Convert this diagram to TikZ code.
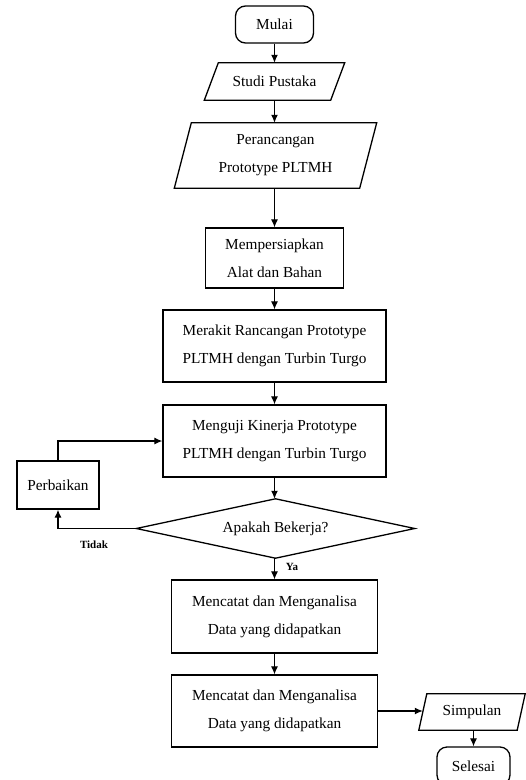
\documentclass[tikz,border=0pt]{standalone}
\usepackage{fontspec}
\setmainfont{Liberation Serif}
\usetikzlibrary{shapes.geometric,arrows.meta,calc}
\begin{document}
\begin{tikzpicture}[x=1pt,y=-1pt,
  every node/.style={font=\fontsize{15.3}{28}\selectfont, align=center, inner sep=0pt},
  procbox/.style={draw, line width=1.3pt, rectangle},
  termbox/.style={draw, line width=1.3pt, rectangle, rounded corners=10pt},
  iobox/.style={rectangle},
  decbox/.style={rectangle},
  lbl/.style={font=\fontsize{11}{13}\selectfont\bfseries},
  arr/.style={line width=1.2pt, -{Latex[length=8pt,width=7pt]}},
  pline/.style={line width=1.3pt, line join=miter}
]
\useasboundingbox (0,0) rectangle (526,780);
\fill[white] (0,0) rectangle (526,780);

% nodes
\node[termbox, minimum width=78pt, minimum height=37pt] (mulai) at (274.5,24.5) {Mulai};
\node[iobox, minimum width=126pt, minimum height=37pt] (studi) at (274.5,81.5) {Studi Pustaka};
\node[iobox, minimum width=185pt, minimum height=65pt] (peran) at (275.5,155.5) {Perancangan\\Prototype PLTMH};
\node[procbox, minimum width=138pt, minimum height=60pt] (siap) at (274.5,258) {Mempersiapkan\\Alat dan Bahan};
\node[procbox, minimum width=223pt, minimum height=72pt] (rakit) at (274.5,346) {Merakit Rancangan Prototype\\PLTMH dengan Turbin Turgo};
\node[procbox, minimum width=223pt, minimum height=72pt] (uji) at (274.5,441) {Menguji Kinerja Prototype\\PLTMH dengan Turbin Turgo};
\node[procbox, minimum width=82pt, minimum height=48pt] (baik) at (58,485) {Perbaikan};
\node[decbox, minimum width=278pt, minimum height=59pt] (dec) at (275.5,528.5) {Apakah Bekerja?};
\node[procbox, minimum width=206pt, minimum height=73pt] (catat1) at (274.5,616.5) {Mencatat dan Menganalisa\\Data yang didapatkan};
\node[procbox, minimum width=206pt, minimum height=72pt] (catat2) at (274.5,711) {Mencatat dan Menganalisa\\Data yang didapatkan};
\node[iobox, minimum width=98pt, minimum height=36pt] (simp) at (472,712) {Simpulan};
\node[termbox, minimum width=73pt, minimum height=38pt] (selesai) at (473.5,766) {Selesai};

% parallelogram and diamond outlines
\draw[pline] ([xshift=-7pt]studi.south west) -- ([xshift=-7pt]studi.south east) -- ([xshift=7pt]studi.north east) -- ([xshift=7pt]studi.north west) -- cycle;
\draw[pline] ([xshift=-8.5pt]peran.south west) -- ([xshift=-8.5pt]peran.south east) -- ([xshift=8.5pt]peran.north east) -- ([xshift=8.5pt]peran.north west) -- cycle;
\draw[pline] ([xshift=-4pt]simp.south west) -- ([xshift=-4pt]simp.south east) -- ([xshift=4pt]simp.north east) -- ([xshift=4pt]simp.north west) -- cycle;
\draw[pline] (dec.west) -- (dec.north) -- (dec.east) -- (dec.south) -- cycle;

% connectors
\draw[arr] (mulai.south) -- (mulai.south |- studi.north);
\draw[arr] (studi.south) -- (studi.south |- peran.north);
\draw[arr] (peran.south -| siap.north) -- (siap.north);
\draw[arr] (siap.south) -- (rakit.north);
\draw[arr] (rakit.south) -- (uji.north);
\draw[arr] (uji.south) -- (uji.south |- dec.north);
\draw[arr] (dec.west) -| (baik.south);
\draw[arr] (baik.north) |- (uji.west);
\draw[arr] (dec.south -| catat1.north) -- (catat1.north);
\draw[arr] (catat1.south) -- (catat2.north);
\draw[arr] (catat2.east) -- (catat2.east -| simp.west);
\draw[arr] (simp.south -| selesai.north) -- (selesai.north);

% labels
\node[lbl] (tidak) at (94,545) {Tidak};
\node[lbl] (ya) at (292,567) {Ya};
\end{tikzpicture}
\end{document}
